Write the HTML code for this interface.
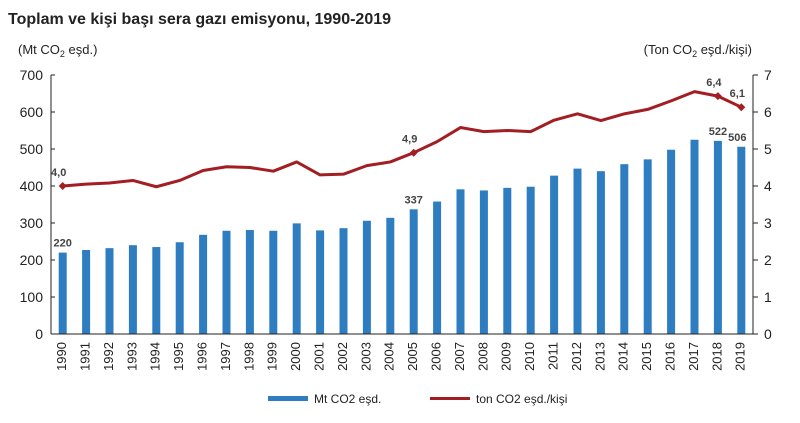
<!DOCTYPE html>
<html><head><meta charset="utf-8"><style>
body{margin:0;background:#fff;font-family:"Liberation Sans",Arial,sans-serif}
</style></head><body>
<svg width="800" height="418" viewBox="0 0 800 418" font-family="Liberation Sans, Arial, sans-serif">
<text x="8" y="24" font-size="16" font-weight="bold" fill="#222">Toplam ve kişi başı sera gazı emisyonu, 1990-2019</text>
<text x="18" y="54" font-size="13" fill="#222">(Mt CO<tspan font-size="9" dy="3">2</tspan><tspan dy="-3"> eşd.)</tspan></text>
<text x="752" y="54" font-size="13" fill="#222" text-anchor="end">(Ton CO<tspan font-size="9" dy="3">2</tspan><tspan dy="-3"> eşd./kişi)</tspan></text>
<g id="plot"></g>
<g>
<rect x="268" y="396" width="40" height="5" fill="#2e7dc0"/>
<text x="314" y="403" font-size="12" fill="#222">Mt CO2 eşd.</text>
<line x1="430" y1="398.5" x2="470" y2="398.5" stroke="#a21e23" stroke-width="3"/>
<text x="476" y="403" font-size="12" fill="#222">ton CO2 eşd./kişi</text>
</g>
</svg>
<script>
const years=[1990,1991,1992,1993,1994,1995,1996,1997,1998,1999,2000,2001,2002,2003,2004,2005,2006,2007,2008,2009,2010,2011,2012,2013,2014,2015,2016,2017,2018,2019];
const totals=[220,227,232,240,235,248,268,279,281,279,299,280,286,306,314,337,358,391,388,395,398,428,447,440,459,472,498,525,522,506];
const perCapita=[4.0,4.05,4.08,4.15,3.98,4.15,4.42,4.52,4.5,4.4,4.65,4.3,4.32,4.55,4.65,4.9,5.2,5.58,5.47,5.5,5.47,5.78,5.95,5.77,5.95,6.07,6.3,6.55,6.43,6.13];
const leftTicks=[0,100,200,300,400,500,600,700];
const rightTicks=[0,1,2,3,4,5,6,7];
const barLabels={0:"220",15:"337",28:"522",29:"506"};
const lineLabels={0:"4,0",15:"4,9",28:"6,4",29:"6,1"};
const NS="http://www.w3.org/2000/svg";
const g=document.getElementById('plot');
const X0=51,X1=753,Y0=334,Y1=75;
const step=(X1-X0)/years.length;
const xc=i=>X0+step*(i+0.5);
const yl=v=>Y0-(v/700)*(Y0-Y1);
const yr=v=>Y0-(v/7)*(Y0-Y1);
function mk(t,a){const e=document.createElementNS(NS,t);for(const k in a)e.setAttribute(k,a[k]);g.appendChild(e);return e;}
totals.forEach((v,i)=>{
 const r=mk('rect',{x:xc(i)-4,y:yl(v),width:8,height:Y0-yl(v),fill:'#2e7dc0'});
 
 
 const t=mk('text',{x:xc(i)+(i===1?0:0),y:Y0+8,'font-size':13,fill:'#222','text-anchor':'end','dominant-baseline':'middle',transform:`rotate(-90 ${xc(i)} ${Y0+8})`});
 t.setAttribute('x',xc(i));t.textContent=years[i];
 
 
});
let axL=mk('line',{x1:X0,y1:Y1,x2:X0,y2:Y0,stroke:'#222','stroke-width':1});

let axR=mk('line',{x1:X1,y1:Y1,x2:X1,y2:Y0,stroke:'#222','stroke-width':1});

let axB=mk('line',{x1:X0,y1:Y0,x2:X1,y2:Y0,stroke:'#222','stroke-width':1});

leftTicks.forEach(v=>{
 mk('line',{x1:X0,y1:yl(v),x2:X0+4,y2:yl(v),stroke:'#222'});
 const t=mk('text',{x:X0-8,y:yl(v)+5,'font-size':14,fill:'#222','text-anchor':'end'});t.textContent=v;
 
 
});
rightTicks.forEach(v=>{
 mk('line',{x1:X1,y1:yr(v),x2:X1+5,y2:yr(v),stroke:'#222'});
 const t=mk('text',{x:X1+11,y:yr(v)+5,'font-size':14,fill:'#222'});t.textContent=v;
 
 
});
const pl=mk('polyline',{points:perCapita.map((v,i)=>xc(i)+','+yr(v)).join(' '),fill:'none',stroke:'#a21e23','stroke-width':3,'stroke-linejoin':'round'});


Object.keys(lineLabels).forEach(k=>{
 const i=+k;
 const m=mk('path',{d:`M${xc(i)-4},${yr(perCapita[i])} L${xc(i)},${yr(perCapita[i])-4} L${xc(i)+4},${yr(perCapita[i])} L${xc(i)},${yr(perCapita[i])+4}Z`,fill:'#a21e23'});
 
 
 const t=mk('text',{x:xc(i)-4,y:yr(perCapita[i])-10,'font-size':11,'font-weight':'bold',fill:'#444','text-anchor':'middle'});t.textContent=lineLabels[k];
 
 
 const b=mk('text',{x:xc(i)-(i===29?4:i===0?0:0),y:yl(totals[i])-6,'font-size':11,'font-weight':'bold',fill:'#444','text-anchor':'middle'});b.textContent=barLabels[k];
 
 
});
</script>
</body></html>
